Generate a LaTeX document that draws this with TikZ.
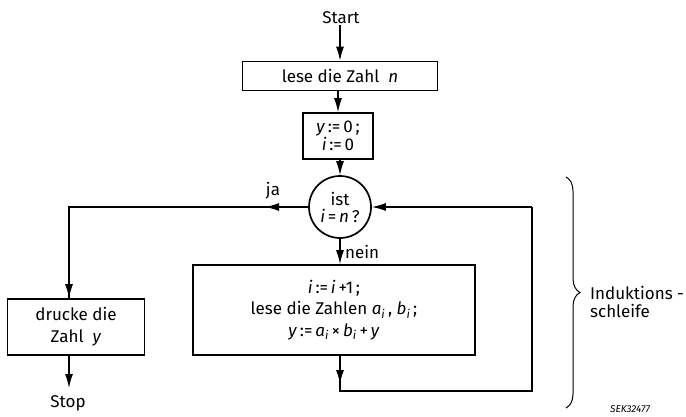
\documentclass[tikz,border=0pt]{standalone}
\usepackage{fontspec}
\setmainfont{Fira Sans}
\usetikzlibrary{arrows.meta,decorations.pathreplacing}
\begin{document}
\begin{tikzpicture}[x=1pt,y=-1pt,
  every node/.style={font=\fontsize{17}{20}\selectfont},
  box/.style={draw,line width=1.7pt,inner sep=2pt,align=center},
  ln/.style={line width=1.3pt},
  arr/.style={ln,-{Latex[length=14pt,width=8pt]}},
  lbl/.style={inner sep=1pt}]
\useasboundingbox (0,0) rectangle (686,416);
\node[lbl] (start) at (341,18) {Start};
\node[box,minimum width=195pt,minimum height=29pt] (b1) at (340,76) {lese die Zahl\ \ \textit{n}};
\node[box,minimum width=70pt,minimum height=46pt,inner sep=1pt,font=\fontsize{17}{16}\selectfont] (b2) at (338,136) {\textit{y}\,:=\,0\,;\\\textit{i}\,:=\,0};
\node[draw,circle,line width=1.7pt,minimum size=62pt,inner sep=0pt,align=center,font=\fontsize{17}{17}\selectfont] (c) at (340,207) {ist\\\textit{i}\,=\,\textit{n}\,?};
\node[box,minimum width=282pt,minimum height=90pt,font=\fontsize{17}{21.5}\selectfont] (big) at (334,310) {\textit{i}\,:=\,\textit{i}\,+1\,;\\lese die Zahlen \textit{a\textsubscript{i}}\,, \textit{b\textsubscript{i}}\,;\\\textit{y}\,:=\,\textit{a\textsubscript{i}}\,×\,\textit{b\textsubscript{i}}\,+\,\textit{y}};
\node[box,minimum width=137pt,minimum height=56pt,font=\fontsize{17}{22}\selectfont] (left) at (76,327) {drucke die\\Zahl\ \ \textit{y}};
\node[lbl] (stop) at (68,403) {Stop};
\node[lbl] (ja) at (273,191) {ja};
\node[lbl,anchor=west] (nein) at (344,252) {nein};
\node[lbl,anchor=west,align=left,font=\fontsize{17}{18}\selectfont] (ind) at (589,302) {Induktions -\\schleife};
\node[lbl,font=\fontsize{10}{10}\selectfont\itshape] (sek) at (630,409) {SEK32477};
\coordinate (jl) at (69,207);
\coordinate (jatip) at (265,207);
\coordinate (tr) at (532,207);
\coordinate (br) at (532,391);
\coordinate (bm) at (340,391);
\coordinate (bmtip) at (340,384);
\coordinate (stoptip) at (69,388);
\coordinate (bt) at (566,177);
\coordinate (bb) at (566,408);
\draw[arr] (start.south -| b1) -- (b1);
\draw[arr] (b1.south -| b2) -- (b2);
\draw[arr] (b2.south -| c) -- (c);
\draw[ln] (c.west) -- (jl) -- (jl |- left.north);
\draw[arr] (c.west) -- (jatip);
\draw[arr] (jl) -- (jl |- left.north);
\draw[arr] (c.south) -- (c.south |- big.north);
\draw[arr] (left.south -| stoptip) -- (stoptip);
\draw[ln] (big.south -| bm) -- (bm) -- (br) -- (tr);
\draw[arr] (big.south -| bm) -- (bmtip);
\draw[arr] (tr) -- (c.east);
\draw[line width=1pt,decorate,decoration={brace,amplitude=14pt}] (bt) -- (bb);
\end{tikzpicture}
\end{document}
